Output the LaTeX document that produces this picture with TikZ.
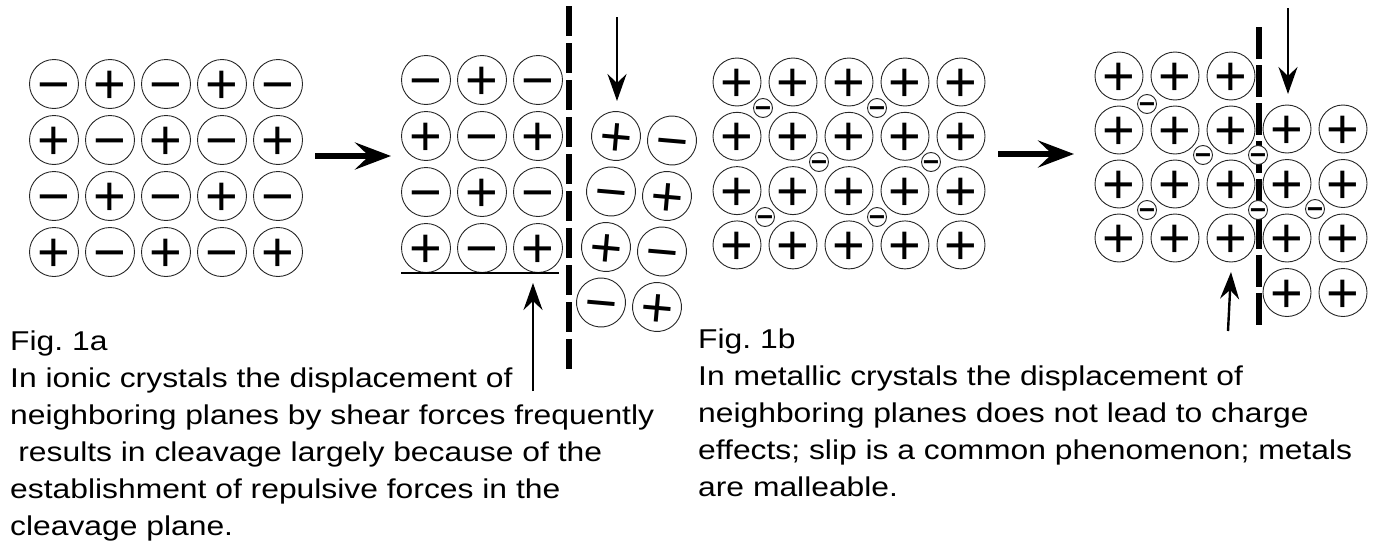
\documentclass[tikz,border=0pt]{standalone}
\usepackage{fontspec}
\setmainfont{Liberation Sans}[FakeStretch=1.17]
\newfontfamily\signfont{Liberation Sans}
\usetikzlibrary{arrows.meta}

% signs lowered so that their middle sits on the node centre
\newcommand{\ionplus}{\smash{\raisebox{-0.35em}{+}}}
\newcommand{\ionminus}{\smash{\raisebox{-0.35em}{−}}}

\begin{document}
\begin{tikzpicture}[x=1pt, y=-1pt, >=Stealth]
	\tikzstyle{ion} = [draw=black!85, line width=0.9pt, circle, minimum size=49pt, inner sep=0pt, font=\signfont\fontsize{56}{56}\selectfont]
	\tikzstyle{metal} = [ion, minimum size=48pt]
	\tikzstyle{electron} = [draw=black!85, line width=0.9pt, circle, fill=white, minimum size=19pt, inner sep=0pt, font=\signfont\bfseries\fontsize{28}{28}\selectfont]
	\tikzstyle{plane} = [line width=5.5pt, dash pattern=on 30pt off 7pt]
	\tikzstyle{push} = [line width=6.5pt, -{Stealth[length=36pt, width=27pt, inset=14pt]}]
	\tikzstyle{shear} = [line width=2.4pt, -{Stealth[length=27pt, width=19pt, inset=9pt]}]
	\tikzstyle{caption} = [anchor=north west, align=left, inner sep=0pt, font=\fontsize{27.2}{37}\selectfont]

	\useasboundingbox (0,0) rectangle (1374,546);

	% Fig. 1a: ionic crystal
	\foreach \i in {0,...,4}
		\foreach \j in {0,...,3}
			\node[ion] at (54+56*\i, 84+56*\j) (a-\i-\j) {\ifodd\numexpr\i+\j\relax\ionplus\else\ionminus\fi};

	\foreach \i in {0,...,2}
		\foreach \j in {0,...,3}
			\node[ion] at (426+56*\i, 80+56*\j) (b-\i-\j) {\ifodd\numexpr\i+\j\relax\ionplus\else\ionminus\fi};

	% displaced block, slightly turned
	\foreach \i in {0,1}
		\foreach \j in {0,...,3}
			\node[ion, rotate=-5] at (616+56*\i-5*\j, 136+4.5*\i+55.5*\j) (c-\i-\j) {\ifodd\numexpr\i+\j\relax\ionminus\else\ionplus\fi};

	\coordinate (p1) at (315,156);
	\coordinate (p2) at (391,156);
	\coordinate (ca) at (569,6);
	\coordinate (cb) at (569,370);
	\coordinate (la) at (401,273);
	\coordinate (lb) at (559,273);
	\coordinate (da) at (617,17);
	\coordinate (db) at (617,101);
	\coordinate (ua) at (533,391);
	\coordinate (ub) at (533,283);

	\draw[push] (p1) -- (p2);
	\draw[plane] (ca) -- (cb);
	\draw[line width=2pt] (la) -- (lb);
	\draw[shear] (da) -- (db);
	\draw[shear] (ua) -- (ub);

	% Fig. 1b: metallic crystal
	\foreach \i in {0,...,4}
		\foreach \j in {0,...,3}
			\node[metal] at (737+56*\i, 82+54.3*\j) (m-\i-\j) {\ionplus};

	\foreach \i in {0,...,2}
		\foreach \j in {0,...,3}
			\node[metal] at (1119+56*\i, 76+54*\j) (n-\i-\j) {\ionplus};
	\foreach \i in {0,1}
		\foreach \j in {0,...,3}
			\node[metal] at (1287+56*\i, 129+54.5*\j) (s-\i-\j) {\ionplus};

	\coordinate (p3) at (998,154);
	\coordinate (p4) at (1074,154);
	\coordinate (cc) at (1259,27);
	\coordinate (cd) at (1259,325);
	\coordinate (dc) at (1288,8);
	\coordinate (dd) at (1288,94);
	\coordinate (uc) at (1228,331);
	\coordinate (ud) at (1231,272);

	\draw[push] (p3) -- (p4);
	\draw[plane, dash pattern=on 32pt off 6pt] (cc) -- (cd);
	\draw[shear] (dc) -- (dd);
	\draw[shear] (uc) -- (ud);

	\node[electron] at (763,108) (e1) {\ionminus};
	\node[electron] at (877,108) (e2) {\ionminus};
	\node[electron] at (819,162) (e3) {\ionminus};
	\node[electron] at (931,162) (e4) {\ionminus};
	\node[electron] at (765,217) (e5) {\ionminus};
	\node[electron] at (877,217) (e6) {\ionminus};

	\node[electron] at (1147,104) (f1) {\ionminus};
	\node[electron] at (1203,155) (f2) {\ionminus};
	\node[electron] at (1258,155) (f3) {\ionminus};
	\node[electron] at (1147,210) (f4) {\ionminus};
	\node[electron] at (1258,210) (f5) {\ionminus};
	\node[electron] at (1315,209) (f6) {\ionminus};

	% captions
	\node[caption] at (10,331) (capa) {Fig.\ 1a\\In ionic crystals the displacement of\\neighboring planes by shear forces frequently\\\hspace{0.3em}results in cleavage largely because of the\\establishment of repulsive forces in the\\cleavage plane.};
	\node[caption] at (698,329) (capb) {Fig.\ 1b\\In metallic crystals the displacement of\\neighboring planes does not lead to charge\\effects; slip is a common phenomenon; metals\\are malleable.};
\end{tikzpicture}
\end{document}
